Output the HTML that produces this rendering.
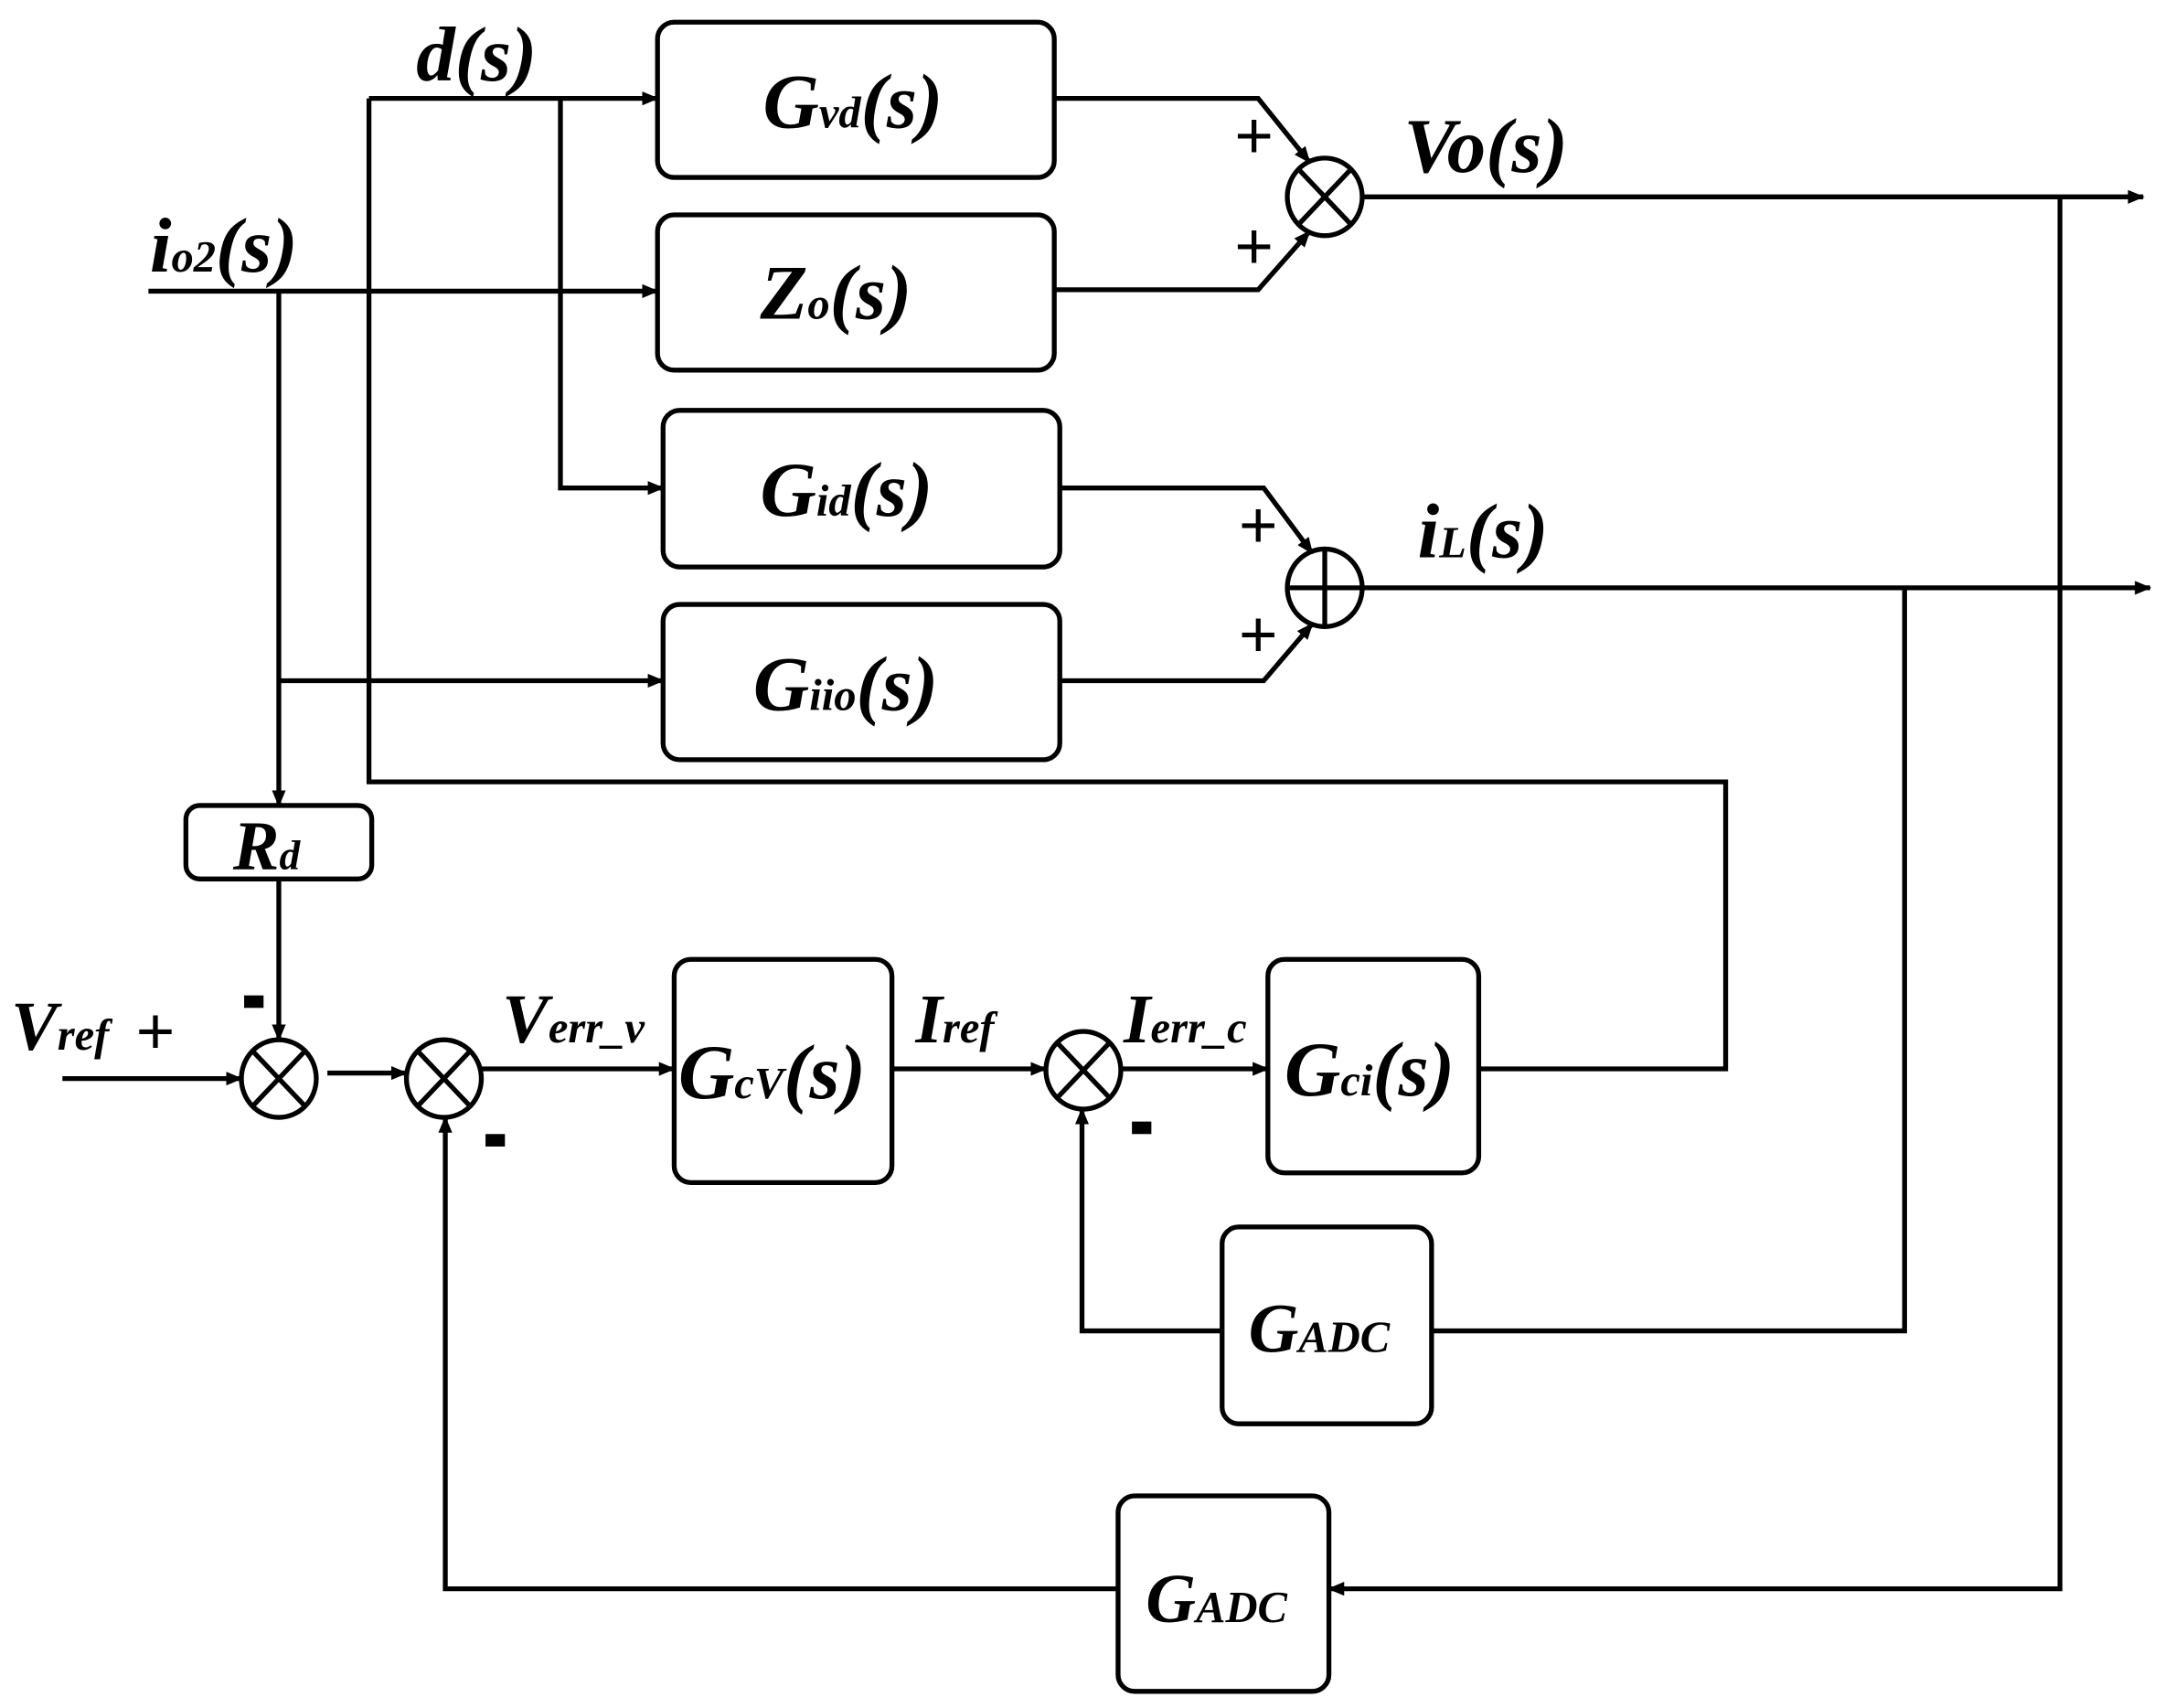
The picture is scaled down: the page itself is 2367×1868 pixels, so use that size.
<!DOCTYPE html>
<html><head><meta charset="utf-8"><style>
html,body{margin:0;padding:0;background:#fff;}
svg{display:block;}
text{font-family:"Liberation Serif",serif;font-weight:bold;font-style:italic;fill:#000;}
.up{font-style:normal;font-family:"Liberation Sans",sans-serif;font-weight:normal;}
</style></head><body>
<svg width="2367" height="1868" viewBox="0 0 1560 1232" preserveAspectRatio="none" xmlns="http://www.w3.org/2000/svg">
<defs>
<marker id="a" markerWidth="12" markerHeight="10" refX="11" refY="5" orient="auto" markerUnits="userSpaceOnUse">
<path d="M0,0 L12,5 L0,10 z" fill="#000"/></marker>
</defs>
<g fill="none" stroke="#000" stroke-width="3.5">
<rect x="474" y="16" width="286" height="112" rx="12"/>
<rect x="474" y="155" width="286" height="112" rx="12"/>
<rect x="478" y="296" width="286" height="113" rx="12"/>
<rect x="478" y="436" width="286" height="112" rx="12"/>
<rect x="134" y="581" width="134" height="53" rx="10"/>
<rect x="486" y="692" width="157" height="161" rx="12"/>
<rect x="914" y="692" width="152" height="154" rx="12"/>
<rect x="881" y="885" width="151" height="142" rx="12"/>
<rect x="806" y="1079" width="152" height="141" rx="12"/>
<ellipse cx="955" cy="142" rx="27" ry="28"/>
<line x1="936" y1="122" x2="974" y2="162"/><line x1="974" y1="122" x2="936" y2="162"/>
<ellipse cx="955" cy="424" rx="27" ry="28"/>
<line x1="928" y1="424" x2="982" y2="424"/><line x1="955" y1="396" x2="955" y2="452"/>
<ellipse cx="201" cy="778" rx="27" ry="28"/>
<line x1="182" y1="758" x2="220" y2="798"/><line x1="220" y1="758" x2="182" y2="798"/>
<ellipse cx="320" cy="778" rx="27" ry="28"/>
<line x1="301" y1="758" x2="339" y2="798"/><line x1="339" y1="758" x2="301" y2="798"/>
<ellipse cx="781" cy="772" rx="27" ry="28"/>
<line x1="762" y1="752" x2="800" y2="792"/><line x1="800" y1="752" x2="762" y2="792"/>
<polyline points="266,71 474,71" marker-end="url(#a)"/>
<polyline points="1066,771 1244,771 1244,564 266,564 266,71"/>
<polyline points="404,71 404,352 478,352" marker-end="url(#a)"/>
<polyline points="107,210 474,210" marker-end="url(#a)"/>
<polyline points="201,210 201,581" marker-end="url(#a)"/>
<polyline points="201,491 478,491" marker-end="url(#a)"/>
<polyline points="201,634 201,750" marker-end="url(#a)"/>
<polyline points="45,778 174,778" marker-end="url(#a)"/>
<polyline points="236,774 293,774" marker-end="url(#a)"/>
<polyline points="347,771 486,771" marker-end="url(#a)"/>
<polyline points="643,771 754,771" marker-end="url(#a)"/>
<polyline points="808,771 914,771" marker-end="url(#a)"/>
<polyline points="760,71 907,71 944,117" marker-end="url(#a)"/>
<polyline points="760,209 907,209 944,167" marker-end="url(#a)"/>
<polyline points="764,352 911,352 946,399" marker-end="url(#a)"/>
<polyline points="764,491 911,491 946,450" marker-end="url(#a)"/>
<polyline points="983,142 1545,142" marker-end="url(#a)"/>
<polyline points="983,424 1550,424" marker-end="url(#a)"/>
<polyline points="1485,142 1485,1146 958,1146" marker-end="url(#a)"/>
<polyline points="806,1146 321,1146 321,806" marker-end="url(#a)"/>
<polyline points="1373,424 1373,960 1032,960"/>
<polyline points="881,960 780,960 780,800" marker-end="url(#a)"/>
</g>
<g font-size="56">
<text x="300" y="58">d(s)</text>
<text x="550" y="92">G<tspan font-size="32">vd</tspan>(s)</text>
<text x="548" y="230">Z<tspan font-size="32">o</tspan>(s)</text>
<text x="548" y="372">G<tspan font-size="32">id</tspan>(s)</text>
<text x="543" y="512">G<tspan font-size="32">iio</tspan>(s)</text>
<text x="1012" y="124">Vo(s)</text>
<text x="1022" y="402">i<tspan font-size="32">L</tspan>(s)</text>
<text x="108" y="196">i<tspan font-size="32">o2</tspan>(s)</text>
<text x="489" y="792">G<tspan font-size="32">cV</tspan>(s)</text>
<text x="926" y="790">G<tspan font-size="32">ci</tspan>(s)</text>
</g>
<g font-size="50">
<text x="168" y="627">R<tspan font-size="30">d</tspan></text>
<text x="8" y="757">V<tspan font-size="32">ref</tspan></text>
<text x="362" y="752">V<tspan font-size="32">err_v</tspan></text>
<text x="660" y="752">I<tspan font-size="32">ref</tspan></text>
<text x="810" y="752">I<tspan font-size="32">err_c</tspan></text>
<text x="900" y="975">G<tspan font-size="32">ADC</tspan></text>
<text x="826" y="1170">G<tspan font-size="32">ADC</tspan></text>
</g>
<g font-size="48">
<text class="up" x="98" y="760">+</text>
<text class="up" x="890" y="114">+</text>
<text class="up" x="890" y="194">+</text>
<text class="up" x="893" y="395">+</text>
<text class="up" x="893" y="474">+</text>
</g>
<g fill="#000">
<rect x="176" y="718" width="14" height="9"/>
<rect x="350" y="818" width="14" height="9"/>
<rect x="816" y="809" width="14" height="9"/>
</g>
</svg>
</body></html>
